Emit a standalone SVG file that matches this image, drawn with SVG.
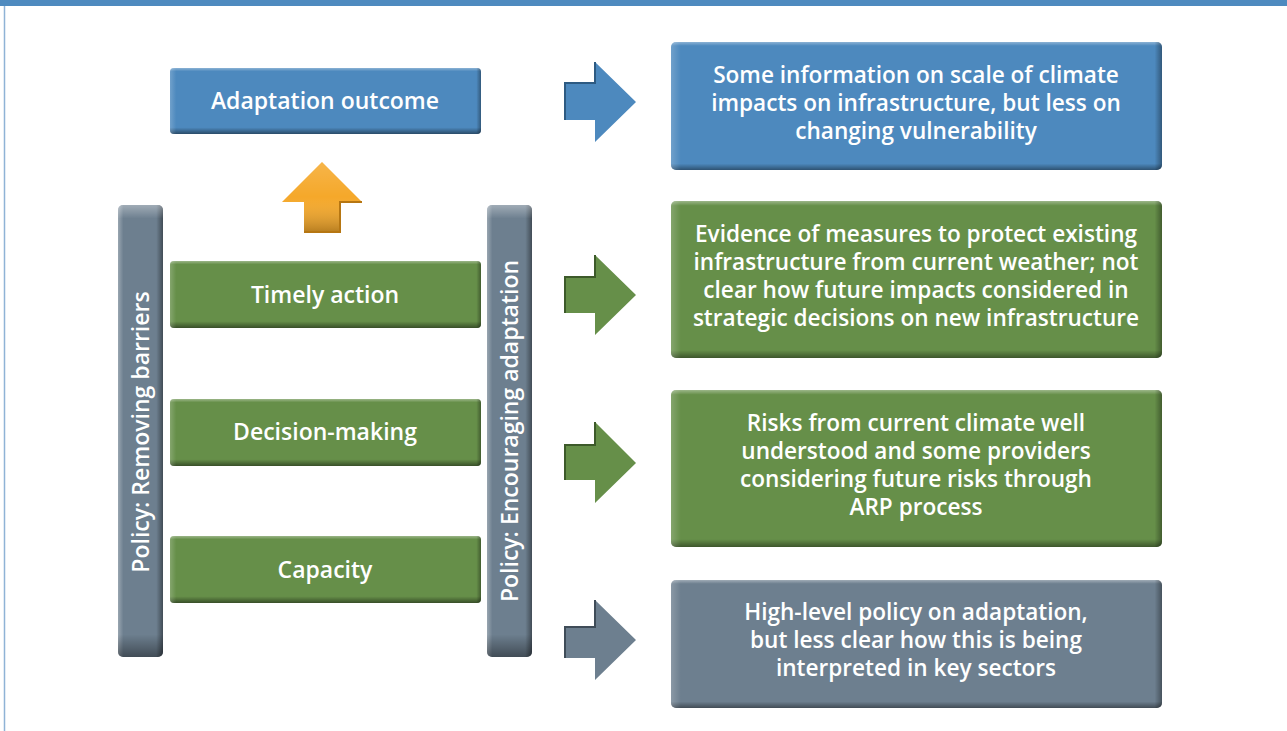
<svg xmlns="http://www.w3.org/2000/svg" width="1287" height="731" viewBox="0 0 1287 731">
<style>
  text { font-family: "Open Sans", "Noto Sans", "DejaVu Sans", sans-serif; font-weight: 600; fill: #ffffff; text-anchor: middle; }
  .lbl { font-size: 23px; }
  .desc { font-size: 22.6px; }
  .vert { font-size: 23px; }
</style>
<defs>
  <linearGradient id="shadeV" x1="0" y1="0" x2="0" y2="1">
    <stop offset="0" stop-color="#ffffff" stop-opacity="0.35"/>
    <stop offset="0.05" stop-color="#ffffff" stop-opacity="0"/>
    <stop offset="0.9" stop-color="#000000" stop-opacity="0"/>
    <stop offset="1" stop-color="#000000" stop-opacity="0.45"/>
  </linearGradient>
  <linearGradient id="shadeVs" x1="0" y1="0" x2="0" y2="1">
    <stop offset="0" stop-color="#ffffff" stop-opacity="0.35"/>
    <stop offset="0.03" stop-color="#ffffff" stop-opacity="0"/>
    <stop offset="0.95" stop-color="#000000" stop-opacity="0"/>
    <stop offset="1" stop-color="#000000" stop-opacity="0.4"/>
  </linearGradient>
  <linearGradient id="shadeH" x1="0" y1="0" x2="1" y2="0">
    <stop offset="0" stop-color="#ffffff" stop-opacity="0.2"/>
    <stop offset="0.02" stop-color="#ffffff" stop-opacity="0"/>
    <stop offset="0.985" stop-color="#000000" stop-opacity="0"/>
    <stop offset="1" stop-color="#000000" stop-opacity="0.35"/>
  </linearGradient>
  <linearGradient id="barH" x1="0" y1="0" x2="1" y2="0">
    <stop offset="0" stop-color="#ffffff" stop-opacity="0.3"/>
    <stop offset="0.12" stop-color="#ffffff" stop-opacity="0"/>
    <stop offset="0.85" stop-color="#000000" stop-opacity="0"/>
    <stop offset="1" stop-color="#000000" stop-opacity="0.4"/>
  </linearGradient>
  <linearGradient id="arrowShade" x1="0" y1="0" x2="0" y2="1">
    <stop offset="0" stop-color="#ffffff" stop-opacity="0.15"/>
    <stop offset="0.5" stop-color="#ffffff" stop-opacity="0"/>
    <stop offset="1" stop-color="#000000" stop-opacity="0.25"/>
  </linearGradient>
</defs>

<rect x="0" y="0" width="1287" height="731" fill="#ffffff"/>
<rect x="0" y="0" width="1287" height="6" fill="#4e8abf"/>
<line x1="4.5" y1="6" x2="4.5" y2="731" stroke="#8fb3d6" stroke-width="1.5"/>

<g id="policy-removing">
  <rect x="118" y="205" width="45" height="452" rx="5" fill="#6d7f8f"/>
  <rect x="118" y="205" width="45" height="452" rx="5" fill="url(#barH)"/>
  <rect x="118" y="205" width="45" height="452" rx="5" fill="url(#shadeVs)"/>
  <text class="vert" transform="translate(149,432) rotate(-90)">Policy: Removing barriers</text>
</g>
<g id="policy-encouraging">
  <rect x="487" y="205" width="45" height="452" rx="5" fill="#6d7f8f"/>
  <rect x="487" y="205" width="45" height="452" rx="5" fill="url(#barH)"/>
  <rect x="487" y="205" width="45" height="452" rx="5" fill="url(#shadeVs)"/>
  <text class="vert" transform="translate(518,431) rotate(-90)">Policy: Encouraging adaptation</text>
</g>

<g id="adaptation-outcome">
  <rect x="170" y="68" width="311" height="66" rx="4" fill="#4d89be"/>
  <rect x="170" y="68" width="311" height="66" rx="4" fill="url(#shadeV)"/>
  <rect x="170" y="68" width="311" height="66" rx="4" fill="url(#shadeH)"/>
  <text class="lbl" x="325" y="109">Adaptation outcome</text>
</g>
<g id="timely-action">
  <rect x="170" y="261" width="311" height="67" rx="4" fill="#668f49"/>
  <rect x="170" y="261" width="311" height="67" rx="4" fill="url(#shadeV)"/>
  <rect x="170" y="261" width="311" height="67" rx="4" fill="url(#shadeH)"/>
  <text class="lbl" x="325" y="303">Timely action</text>
</g>
<g id="decision-making">
  <rect x="170" y="399" width="311" height="67" rx="4" fill="#668f49"/>
  <rect x="170" y="399" width="311" height="67" rx="4" fill="url(#shadeV)"/>
  <rect x="170" y="399" width="311" height="67" rx="4" fill="url(#shadeH)"/>
  <text class="lbl" x="325" y="440">Decision-making</text>
</g>
<g id="capacity">
  <rect x="170" y="536" width="311" height="67" rx="4" fill="#668f49"/>
  <rect x="170" y="536" width="311" height="67" rx="4" fill="url(#shadeV)"/>
  <rect x="170" y="536" width="311" height="67" rx="4" fill="url(#shadeH)"/>
  <text class="lbl" x="325" y="578">Capacity</text>
</g>

<g id="box-scale">
  <rect x="671" y="42" width="491" height="128" rx="5" fill="#4d89be"/>
  <rect x="671" y="42" width="491" height="128" rx="5" fill="url(#shadeVs)"/>
  <rect x="671" y="42" width="491" height="128" rx="5" fill="url(#shadeH)"/>
  <text class="desc"><tspan x="916" y="83">Some information on scale of climate</tspan><tspan x="916" y="111">impacts on infrastructure, but less on</tspan><tspan x="916" y="139">changing vulnerability</tspan></text>
</g>
<g id="box-evidence">
  <rect x="671" y="201" width="491" height="157" rx="5" fill="#668f49"/>
  <rect x="671" y="201" width="491" height="157" rx="5" fill="url(#shadeVs)"/>
  <rect x="671" y="201" width="491" height="157" rx="5" fill="url(#shadeH)"/>
  <text class="desc"><tspan x="916" y="242">Evidence of measures to protect existing</tspan><tspan x="916" y="270">infrastructure from current weather; not</tspan><tspan x="916" y="298">clear how future impacts considered in</tspan><tspan x="916" y="326">strategic decisions on new infrastructure</tspan></text>
</g>
<g id="box-risks">
  <rect x="671" y="390" width="491" height="157" rx="5" fill="#668f49"/>
  <rect x="671" y="390" width="491" height="157" rx="5" fill="url(#shadeVs)"/>
  <rect x="671" y="390" width="491" height="157" rx="5" fill="url(#shadeH)"/>
  <text class="desc"><tspan x="916" y="431">Risks from current climate well</tspan><tspan x="916" y="459">understood and some providers</tspan><tspan x="916" y="487">considering future risks through</tspan><tspan x="916" y="515">ARP process</tspan></text>
</g>
<g id="box-policy">
  <rect x="671" y="580" width="491" height="128" rx="5" fill="#6d7f8f"/>
  <rect x="671" y="580" width="491" height="128" rx="5" fill="url(#shadeVs)"/>
  <rect x="671" y="580" width="491" height="128" rx="5" fill="url(#shadeH)"/>
  <text class="desc"><tspan x="916" y="620">High-level policy on adaptation,</tspan><tspan x="916" y="648">but less clear how this is being</tspan><tspan x="916" y="676">interpreted in key sectors</tspan></text>
</g>

<g id="connectors">
  <g id="arrow-up">
    <polygon points="322,162 362,202 340,202 340,232 304,232 304,202 282,202" fill="#f5a82a"/>
    <polygon points="322,162 362,202 340,202 340,232 304,232 304,202 282,202" fill="url(#arrowShade)"/>
    <polyline points="362,202 340,202 340,232 304,232" fill="none" stroke="#b67612" stroke-width="2"/>
  </g>
  <g id="arrow-1">
    <polygon points="565,83 595,83 595,62 636,102 595,142 595,120 565,120" fill="#4d89be"/>
    <polyline points="565,120 565,83 595,83 595,62" fill="none" stroke="#2d5a82" stroke-width="2"/>
  </g>
  <g id="arrow-2">
    <polygon points="565,277 595,277 595,255 636,295 595,335 595,313 565,313" fill="#668f49"/>
    <polyline points="565,313 565,277 595,277 595,255" fill="none" stroke="#3d5a2a" stroke-width="2"/>
  </g>
  <g id="arrow-3">
    <polygon points="565,445 595,445 595,422 636,463 595,503 595,480 565,480" fill="#668f49"/>
    <polyline points="565,480 565,445 595,445 595,422" fill="none" stroke="#3d5a2a" stroke-width="2"/>
  </g>
  <g id="arrow-4">
    <polygon points="565,627 595,627 595,600 636,640 595,680 595,658 565,658" fill="#6d7f8f"/>
    <polyline points="565,658 565,627 595,627 595,600" fill="none" stroke="#3f4c58" stroke-width="2"/>
  </g>
</g>
</svg>
